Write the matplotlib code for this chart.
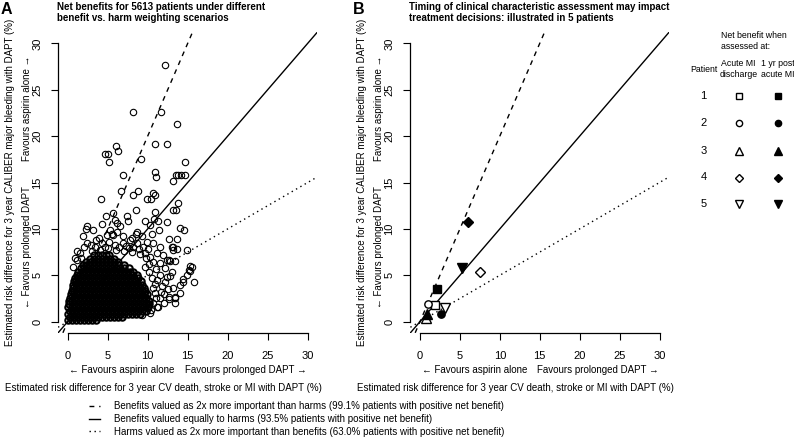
import matplotlib
matplotlib.use('Agg')
import matplotlib.pyplot as plt
from matplotlib.lines import Line2D

plt.rcParams['font.family'] = ['Liberation Sans', 'DejaVu Sans']

W, H = 794, 437

# panel A: patients that stand out from the dense cloud (benefit %, harm %)
a_sparse = [
    (12.1, 27.7), (8.1, 22.6), (11.6, 22.6), (13.7, 21.3), (6.0, 18.9), (6.25, 18.4),
    (4.6, 18.1), (5.0, 18.1), (5.1, 17.2), (10.9, 19.1), (12.4, 19.1), (9.2, 17.5),
    (14.7, 17.2), (6.9, 15.8), (10.95, 16.1), (11.0, 15.6), (13.5, 15.8), (13.8, 15.8),
    (14.1, 15.8), (14.7, 15.8), (13.2, 15.2), (6.7, 14.1), (8.1, 13.7), (8.8, 14.1),
    (10.6, 13.9), (10.9, 13.7), (9.9, 13.2), (10.4, 13.2), (4.2, 13.2), (13.8, 12.8),
    (13.2, 12.0), (13.5, 12.0), (5.7, 11.7), (4.75, 11.4), (7.45, 11.4), (8.5, 12.0),
    (10.9, 11.8), (2.4, 10.3), (2.25, 10.0), (3.2, 9.9), (4.25, 10.5), (5.3, 9.9),
    (5.5, 9.5), (5.7, 9.3), (6.2, 10.6), (6.5, 10.3), (7.5, 10.85), (8.5, 9.5),
    (9.7, 10.9), (10.8, 11.1), (11.25, 10.9), (12.4, 10.7), (10.3, 10.4), (10.5, 9.5),
    (11.4, 9.9), (12.6, 8.9), (14.0, 10.1), (14.5, 9.9), (13.6, 8.9), (14.9, 7.7),
    (13.1, 8.0), (13.6, 7.8), (12.4, 6.7), (12.8, 6.5), (15.5, 5.9), (15.3, 5.5),
    (14.9, 5.0), (15.8, 4.3), (14.45, 4.3), (14.0, 4.0), (13.2, 3.6), (13.4, 2.7),
    (13.4, 2.0), (12.6, 2.7), (12.0, 2.0), (11.3, 1.6), (10.3, 0.9), (9.25, 0.7),
    (15.3, 6.0), (15.2, 5.6), (14.45, 4.6), (14.0, 3.1), (13.4, 2.5), (12.7, 2.4),
    (13.0, 8.1), (13.2, 7.7), (13.4, 6.5),
]

# panel A: looser ring of patients around the core
a_ring = [
    (2.4, 8.5), (3.4, 8.1), (4.25, 8.45), (5.1, 8.6), (5.9, 8.3), (6.95, 8.45),
    (7.8, 8.8), (8.6, 8.45), (9.45, 8.1), (10.7, 8.45), (11.5, 8.1), (11.1, 7.4),
    (10.3, 7.0), (11.95, 7.2), (12.6, 6.65), (11.5, 6.3), (12.2, 5.75), (13.0, 5.4),
    (12.4, 4.85), (11.5, 5.0), (10.9, 4.1), (11.75, 3.8), (10.9, 3.1), (11.5, 2.5),
    (10.7, 2.0), (9.9, 1.45), (11.1, 1.6), (1.5, 7.4), (1.1, 6.65), (0.7, 5.9),
    (1.95, 9.2), (4.9, 9.3), (6.1, 9.7), (6.95, 9.2), (8.6, 9.7), (9.25, 9.2),
    (5.9, 10.95), (3.0, 7.6), (4.0, 7.7), (5.0, 7.9), (6.0, 7.7), (7.0, 7.6),
    (8.0, 7.5), (9.0, 7.3), (9.8, 6.9), (10.6, 6.4), (11.0, 5.7), (11.2, 4.5),
    (11.6, 3.2), (11.0, 2.6), (10.4, 1.3), (2.0, 8.0), (1.7, 6.9), (3.5, 8.8),
    (7.3, 8.2), (8.2, 8.1), (10.0, 7.8), (10.2, 5.4), (10.5, 4.7), (10.7, 3.6),
    (12.1, 4.3), (12.0, 3.0), (8.0, 9.0), (9.9, 8.6), (2.9, 8.3), (4.6, 8.0),
    (6.4, 8.0), (7.6, 7.9), (8.9, 7.8), (9.6, 7.4), (10.1, 6.2), (9.6, 5.9),
    (3.9, 9.0), (1.2, 7.6), (0.9, 6.9), (12.5, 3.5), (12.8, 4.9),
]

# panel A: overplotted core, read row by row (harm level -> benefit values)
core_rows_y = [0.15, 0.5, 0.85, 1.2, 1.55, 1.9, 2.25, 2.6, 2.95, 3.3,
               3.65, 4.0, 4.35, 4.7, 5.05, 5.4, 5.75, 6.1, 6.45, 6.8, 7.15]
core_rows_x = [
    [0.0, 0.5, 1.0, 1.5, 2.0, 2.5, 3.0, 3.5],
    [0.25, 0.75, 1.25, 1.75, 2.25, 2.75, 3.25, 3.75, 4.25, 4.75, 5.25, 5.75, 6.25, 6.75],
    [0.0, 0.5, 1.0, 1.5, 2.0, 2.5, 3.0, 3.5, 4.0, 4.5, 5.0, 5.5, 6.0, 6.5, 7.0, 7.5, 8.0, 8.5, 9.0],
    [0.25, 0.75, 1.25, 1.75, 2.25, 2.75, 3.25, 3.75, 4.25, 4.75, 5.25, 5.75, 6.25, 6.75, 7.25, 7.75, 8.25, 8.75, 9.25, 9.75],
    [0.05, 0.5, 1.0, 1.5, 2.0, 2.5, 3.0, 3.5, 4.0, 4.5, 5.0, 5.5, 6.0, 6.5, 7.0, 7.5, 8.0, 8.5, 9.0, 9.5, 10.0],
    [0.1, 0.75, 1.25, 1.75, 2.25, 2.75, 3.25, 3.75, 4.25, 4.75, 5.25, 5.75, 6.25, 6.75, 7.25, 7.75, 8.25, 8.75, 9.25, 9.75, 10.2],
    [0.2, 0.5, 1.0, 1.5, 2.0, 2.5, 3.0, 3.5, 4.0, 4.5, 5.0, 5.5, 6.0, 6.5, 7.0, 7.5, 8.0, 8.5, 9.0, 9.5, 10.1],
    [0.3, 0.75, 1.25, 1.75, 2.25, 2.75, 3.25, 3.75, 4.25, 4.75, 5.25, 5.75, 6.25, 6.75, 7.25, 7.75, 8.25, 8.75, 9.25, 9.75],
    [0.4, 1.0, 1.5, 2.0, 2.5, 3.0, 3.5, 4.0, 4.5, 5.0, 5.5, 6.0, 6.5, 7.0, 7.5, 8.0, 8.5, 9.0, 9.5, 9.9],
    [0.5, 0.75, 1.25, 1.75, 2.25, 2.75, 3.25, 3.75, 4.25, 4.75, 5.25, 5.75, 6.25, 6.75, 7.25, 7.75, 8.25, 8.75, 9.25, 9.7],
    [0.6, 1.0, 1.5, 2.0, 2.5, 3.0, 3.5, 4.0, 4.5, 5.0, 5.5, 6.0, 6.5, 7.0, 7.5, 8.0, 8.5, 9.0, 9.5],
    [0.7, 1.25, 1.75, 2.25, 2.75, 3.25, 3.75, 4.25, 4.75, 5.25, 5.75, 6.25, 6.75, 7.25, 7.75, 8.25, 8.75, 9.3],
    [0.8, 1.0, 1.5, 2.0, 2.5, 3.0, 3.5, 4.0, 4.5, 5.0, 5.5, 6.0, 6.5, 7.0, 7.5, 8.0, 8.5, 9.1],
    [0.95, 1.25, 1.75, 2.25, 2.75, 3.25, 3.75, 4.25, 4.75, 5.25, 5.75, 6.25, 6.75, 7.25, 7.75, 8.25, 8.8],
    [1.1, 1.5, 2.0, 2.5, 3.0, 3.5, 4.0, 4.5, 5.0, 5.5, 6.0, 6.5, 7.0, 7.5, 8.0, 8.7],
    [1.3, 1.75, 2.25, 2.75, 3.25, 3.75, 4.25, 4.75, 5.25, 5.75, 6.25, 6.75, 7.25, 7.75, 8.2],
    [1.6, 2.0, 2.5, 3.0, 3.5, 4.0, 4.5, 5.0, 5.5, 6.0, 6.5, 7.0, 7.6],
    [1.9, 2.25, 2.75, 3.25, 3.75, 4.25, 4.75, 5.25, 5.75, 6.25, 7.0],
    [2.3, 2.75, 3.25, 3.75, 4.25, 4.75, 5.25, 5.75, 6.3],
    [2.8, 3.25, 3.75, 4.25, 4.75, 5.25, 5.8],
    [3.3, 3.75, 4.25, 4.75, 5.2],
]

# panel B: five patients at two time points
patients = [1, 2, 3, 4, 5]
patient_markers = ['s', 'o', '^', 'D', 'v']
discharge_x = [1.9, 1.05, 0.75, 7.5, 3.15]
discharge_y = [1.85, 1.9, 0.35, 5.4, 1.5]
oneyear_x = [2.1, 2.6, 0.9, 6.0, 5.3]
oneyear_y = [3.5, 0.85, 0.85, 10.7, 5.8]

# weighting scenarios: harm threshold = slope * benefit
slopes = [2, 1, 0.5]
line_styles = [(0, (3.5, 3.5)), '-', (0, (1, 2.6))]
scenario_labels = [
    'Benefits valued as 2x more important than harms (99.1% patients with positive net benefit)',
    'Benefits valued equally to harms (93.5% patients with positive net benefit)',
    'Harms valued as 2x more important than benefits (63.0% patients with positive net benefit)',
]
ticks = [0, 5, 10, 15, 20, 25, 30]


def fx(px):
    return px / W


def fy(py):
    return 1 - py / H


fig = plt.figure(figsize=(W / 100, H / 100), dpi=100)
ax_a = fig.add_axes([fx(58.1), fy(332.8), (317.3 - 58.1) / W, (332.8 - 32.2) / H])
ax_b = fig.add_axes([fx(410.4), fy(332.8), (669.1 - 410.4) / W, (332.8 - 32.2) / H])


def style_axes(ax):
    ax.set_xlim(-1.2, 31.2)
    ax.set_ylim(-1.2, 31.2)
    for s in ['top', 'right']:
        ax.spines[s].set_visible(False)
    for s in ['left', 'bottom']:
        ax.spines[s].set_bounds(0, 30)
        ax.spines[s].set_linewidth(0.9)
    ax.set_xticks(ticks)
    ax.set_yticks(ticks)
    ax.tick_params(direction='out', length=5, width=0.8, labelsize=8)
    ax.tick_params(axis='x', pad=8)
    ax.tick_params(axis='y', pad=6.5)
    for lab in ax.get_yticklabels():
        lab.set_rotation(90)
        lab.set_va('center')
    ax.patch.set_alpha(0)
    for slope, ls in zip(slopes, line_styles):
        ax.axline((0, 0), slope=slope, color='black', lw=1.0, linestyle=ls, zorder=1)


style_axes(ax_a)
style_axes(ax_b)

# panel A scatter: overplotted core drawn with heavier rings, the rest as plain circles
core_x = [x for row in core_rows_x for x in row]
core_y = [y for y, row in zip(core_rows_y, core_rows_x) for _ in row]
ax_a.plot(core_x, core_y, linestyle='none', marker='o', markersize=4.6,
          markerfacecolor='none', markeredgecolor='black', markeredgewidth=1.5, zorder=2)
pts = a_sparse + a_ring
ax_a.plot([p[0] for p in pts], [p[1] for p in pts],
          linestyle='none', marker='o', markersize=4.6, markerfacecolor='none',
          markeredgecolor='black', markeredgewidth=0.8, zorder=2)

# panel B markers
for m, x0, y0, x1, y1 in zip(patient_markers, discharge_x, discharge_y, oneyear_x, oneyear_y):
    ms = 7 if m in ('^', 'v') else 5.3
    ax_b.plot([x0], [y0], marker=m, markersize=ms, markerfacecolor='white',
              markeredgecolor='black', markeredgewidth=1.0, zorder=3)
    ax_b.plot([x1], [y1], marker=m, markersize=ms, color='black', zorder=3)

# titles and axis labels
for dx, letter, title in [(0, 'A', 'Net benefits for 5613 patients under different\nbenefit vs. harm weighting scenarios'),
                          (352.3, 'B', 'Timing of clinical characteristic assessment may impact\ntreatment decisions: illustrated in 5 patients')]:
    fig.text(fx(1 + dx), fy(2), letter, fontsize=11.5, fontweight='bold', va='top', ha='left')
    fig.text(fx(57 + dx), fy(2), title, fontsize=7, fontweight='bold', va='top', ha='left',
             linespacing=1.15)
    fig.text(fx(10 + dx), fy(182), 'Estimated risk difference for 3 year CALIBER major bleeding with DAPT (%)',
             rotation=90, fontsize=7, ha='center', va='center')
    fig.text(fx(163 + dx), fy(388), 'Estimated risk difference for 3 year CV death, stroke or MI with DAPT (%)',
             fontsize=7, ha='center', va='center')

for ax in (ax_a, ax_b):
    tx = ax.get_xaxis_transform()
    ty = ax.get_yaxis_transform()
    ax.text(6.8, -0.125, '\u2190 Favours aspirin alone', transform=tx, fontsize=7,
            ha='center', va='center', clip_on=False)
    ax.text(22.3, -0.125, 'Favours prolonged DAPT \u2192', transform=tx, fontsize=7,
            ha='center', va='center', clip_on=False)
    ax.text(-0.12, 8.0, '\u2190 Favours prolonged DAPT', transform=ty, fontsize=7,
            rotation=90, ha='center', va='center', clip_on=False)
    ax.text(-0.12, 23.0, 'Favours aspirin alone \u2192', transform=ty, fontsize=7,
            rotation=90, ha='center', va='center', clip_on=False)

# key for panel B
ax_k = fig.add_axes([fx(680), fy(437), 114 / W, 1.0])
ax_k.set_xlim(680, 794)
ax_k.set_ylim(437, 0)
ax_k.axis('off')
ax_k.text(721, 41, 'Net benefit when\nassessed at:', fontsize=6.3, ha='left', va='center', linespacing=1.2)
ax_k.text(703.5, 69, 'Patient', fontsize=6.3, ha='center', va='center')
ax_k.text(738.7, 69, 'Acute MI\ndischarge', fontsize=6.3, ha='center', va='center', linespacing=1.2)
ax_k.text(778, 69, '1 yr post\nacute MI', fontsize=6.3, ha='center', va='center', linespacing=1.2)
row_y = [96, 123.3, 150.5, 177.5, 204.3]
for p, m, ry in zip(patients, patient_markers, row_y):
    ms = 6 if m in ('^', 'v') else 4.5
    ax_k.text(703.5, ry, str(p), fontsize=8, ha='center', va='center')
    ax_k.plot([738.7], [ry], marker=m, markersize=ms, markerfacecolor='white',
              markeredgecolor='black', markeredgewidth=1.0)
    ax_k.plot([778], [ry], marker=m, markersize=ms, color='black')

# bottom legend for weighting scenarios
handles = [Line2D([], [], color='black', lw=1.0, linestyle=ls) for ls in line_styles]
fig.legend(handles, scenario_labels, loc='upper left', bbox_to_anchor=(fx(89), fy(401)),
           frameon=False, fontsize=7, handlelength=1.15, handletextpad=1.4,
           labelspacing=0.3, borderpad=0, borderaxespad=0)

fig.savefig('out.png', dpi=100)
